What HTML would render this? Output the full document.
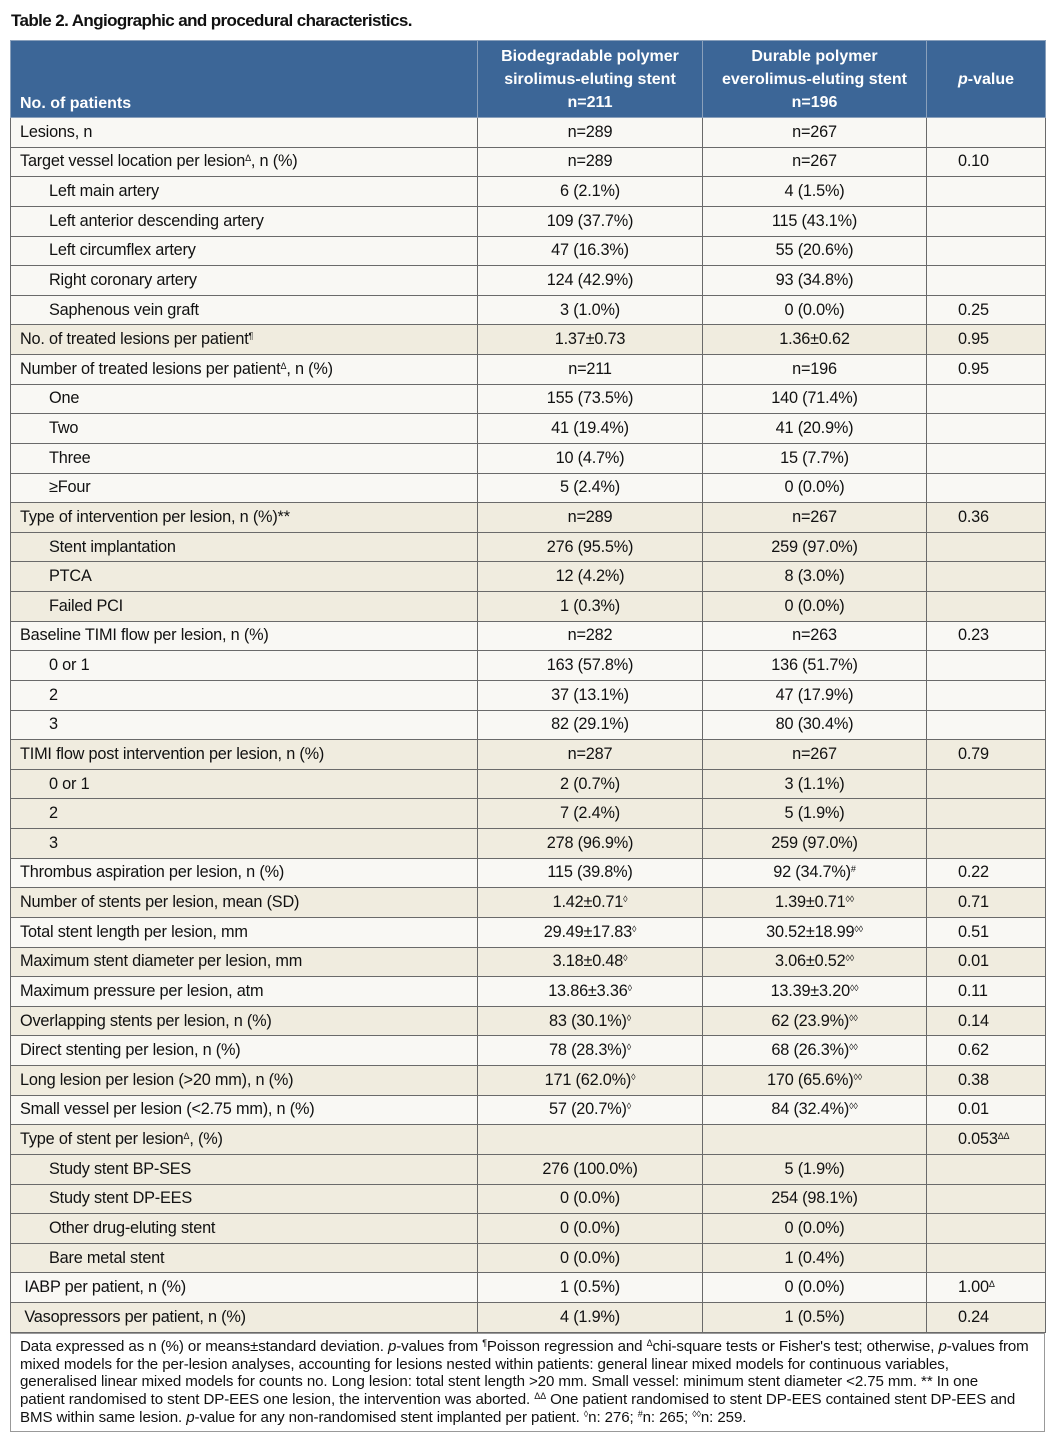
<!DOCTYPE html>
<html><head><meta charset="utf-8"><style>
body{margin:0;background:#fff;width:1060px;height:1445px;position:relative;font-family:"Liberation Sans",sans-serif;color:#111}
.title{position:absolute;left:11px;top:11px;font-weight:bold;font-size:17px;letter-spacing:-0.6px}
table{position:absolute;left:10px;top:40px;width:1035px;border-collapse:collapse;table-layout:fixed;font-size:16.3px;letter-spacing:-0.2px}
td,th{border:1px solid #6a6a6a;padding:0;white-space:nowrap}
th{background:#3c6697;color:#fff;font-weight:bold;font-size:16px;height:73px;text-align:center;vertical-align:bottom;padding-bottom:3px;line-height:23px;border-color:#8aa0bb;letter-spacing:0}
th.l{text-align:left;padding-left:9px;padding-bottom:2px}
tr.r td{height:28.63px}
td{background:#f9f8f4}
tr.b td{background:#f0ecdf}
td.a{padding-left:9px}
td.i{padding-left:38px}
td.c{text-align:center}
td.p{padding-left:31px}
sup{font-size:9px;vertical-align:5px;line-height:0}
.foot{position:absolute;left:10px;top:1333px;width:1035px;height:99px;border:1px solid #999;font-size:15.1px;line-height:17.7px;padding:4px 0 0 9px;box-sizing:border-box;white-space:nowrap;letter-spacing:-0.1px}
</style></head><body>
<div class="title">Table 2. Angiographic and procedural characteristics.</div>
<table>
<colgroup><col style="width:467px"><col style="width:225px"><col style="width:224px"><col style="width:119px"></colgroup>
<tr><th class="l">No. of patients</th><th>Biodegradable polymer<br>sirolimus-eluting stent<br>n=211</th><th>Durable polymer<br>everolimus-eluting stent<br>n=196</th><th style="vertical-align:middle;padding-bottom:0"><i>p</i>-value</th></tr>
<tr class="r"><td class="a">Lesions, n</td><td class="c">n=289</td><td class="c">n=267</td><td></td></tr>
<tr class="r"><td class="a">Target vessel location per lesion<sup>Δ</sup>, n (%)</td><td class="c">n=289</td><td class="c">n=267</td><td class="p">0.10</td></tr>
<tr class="r"><td class="i">Left main artery</td><td class="c">6 (2.1%)</td><td class="c">4 (1.5%)</td><td></td></tr>
<tr class="r"><td class="i">Left anterior descending artery</td><td class="c">109 (37.7%)</td><td class="c">115 (43.1%)</td><td></td></tr>
<tr class="r"><td class="i">Left circumflex artery</td><td class="c">47 (16.3%)</td><td class="c">55 (20.6%)</td><td></td></tr>
<tr class="r"><td class="i">Right coronary artery</td><td class="c">124 (42.9%)</td><td class="c">93 (34.8%)</td><td></td></tr>
<tr class="r"><td class="i">Saphenous vein graft</td><td class="c">3 (1.0%)</td><td class="c">0 (0.0%)</td><td class="p">0.25</td></tr>
<tr class="r b"><td class="a">No. of treated lesions per patient<sup>¶</sup></td><td class="c">1.37±0.73</td><td class="c">1.36±0.62</td><td class="p">0.95</td></tr>
<tr class="r"><td class="a">Number of treated lesions per patient<sup>Δ</sup>, n (%)</td><td class="c">n=211</td><td class="c">n=196</td><td class="p">0.95</td></tr>
<tr class="r"><td class="i">One</td><td class="c">155 (73.5%)</td><td class="c">140 (71.4%)</td><td></td></tr>
<tr class="r"><td class="i">Two</td><td class="c">41 (19.4%)</td><td class="c">41 (20.9%)</td><td></td></tr>
<tr class="r"><td class="i">Three</td><td class="c">10 (4.7%)</td><td class="c">15 (7.7%)</td><td></td></tr>
<tr class="r"><td class="i">≥Four</td><td class="c">5 (2.4%)</td><td class="c">0 (0.0%)</td><td></td></tr>
<tr class="r b"><td class="a">Type of intervention per lesion, n (%)**</td><td class="c">n=289</td><td class="c">n=267</td><td class="p">0.36</td></tr>
<tr class="r b"><td class="i">Stent implantation</td><td class="c">276 (95.5%)</td><td class="c">259 (97.0%)</td><td></td></tr>
<tr class="r b"><td class="i">PTCA</td><td class="c">12 (4.2%)</td><td class="c">8 (3.0%)</td><td></td></tr>
<tr class="r b"><td class="i">Failed PCI</td><td class="c">1 (0.3%)</td><td class="c">0 (0.0%)</td><td></td></tr>
<tr class="r"><td class="a">Baseline TIMI flow per lesion, n (%)</td><td class="c">n=282</td><td class="c">n=263</td><td class="p">0.23</td></tr>
<tr class="r"><td class="i">0 or 1</td><td class="c">163 (57.8%)</td><td class="c">136 (51.7%)</td><td></td></tr>
<tr class="r"><td class="i">2</td><td class="c">37 (13.1%)</td><td class="c">47 (17.9%)</td><td></td></tr>
<tr class="r"><td class="i">3</td><td class="c">82 (29.1%)</td><td class="c">80 (30.4%)</td><td></td></tr>
<tr class="r b"><td class="a">TIMI flow post intervention per lesion, n (%)</td><td class="c">n=287</td><td class="c">n=267</td><td class="p">0.79</td></tr>
<tr class="r b"><td class="i">0 or 1</td><td class="c">2 (0.7%)</td><td class="c">3 (1.1%)</td><td></td></tr>
<tr class="r b"><td class="i">2</td><td class="c">7 (2.4%)</td><td class="c">5 (1.9%)</td><td></td></tr>
<tr class="r b"><td class="i">3</td><td class="c">278 (96.9%)</td><td class="c">259 (97.0%)</td><td></td></tr>
<tr class="r"><td class="a">Thrombus aspiration per lesion, n (%)</td><td class="c">115 (39.8%)</td><td class="c">92 (34.7%)<sup>#</sup></td><td class="p">0.22</td></tr>
<tr class="r b"><td class="a">Number of stents per lesion, mean (SD)</td><td class="c">1.42±0.71<sup>◊</sup></td><td class="c">1.39±0.71<sup>◊◊</sup></td><td class="p">0.71</td></tr>
<tr class="r"><td class="a">Total stent length per lesion, mm</td><td class="c">29.49±17.83<sup>◊</sup></td><td class="c">30.52±18.99<sup>◊◊</sup></td><td class="p">0.51</td></tr>
<tr class="r b"><td class="a">Maximum stent diameter per lesion, mm</td><td class="c">3.18±0.48<sup>◊</sup></td><td class="c">3.06±0.52<sup>◊◊</sup></td><td class="p">0.01</td></tr>
<tr class="r"><td class="a">Maximum pressure per lesion, atm</td><td class="c">13.86±3.36<sup>◊</sup></td><td class="c">13.39±3.20<sup>◊◊</sup></td><td class="p">0.11</td></tr>
<tr class="r b"><td class="a">Overlapping stents per lesion, n (%)</td><td class="c">83 (30.1%)<sup>◊</sup></td><td class="c">62 (23.9%)<sup>◊◊</sup></td><td class="p">0.14</td></tr>
<tr class="r"><td class="a">Direct stenting per lesion, n (%)</td><td class="c">78 (28.3%)<sup>◊</sup></td><td class="c">68 (26.3%)<sup>◊◊</sup></td><td class="p">0.62</td></tr>
<tr class="r b"><td class="a">Long lesion per lesion (&gt;20 mm), n (%)</td><td class="c">171 (62.0%)<sup>◊</sup></td><td class="c">170 (65.6%)<sup>◊◊</sup></td><td class="p">0.38</td></tr>
<tr class="r"><td class="a">Small vessel per lesion (&lt;2.75 mm), n (%)</td><td class="c">57 (20.7%)<sup>◊</sup></td><td class="c">84 (32.4%)<sup>◊◊</sup></td><td class="p">0.01</td></tr>
<tr class="r b"><td class="a">Type of stent per lesion<sup>Δ</sup>, (%)</td><td></td><td></td><td class="p">0.053<sup>ΔΔ</sup></td></tr>
<tr class="r b"><td class="i">Study stent BP-SES</td><td class="c">276 (100.0%)</td><td class="c">5 (1.9%)</td><td></td></tr>
<tr class="r b"><td class="i">Study stent DP-EES</td><td class="c">0 (0.0%)</td><td class="c">254 (98.1%)</td><td></td></tr>
<tr class="r b"><td class="i">Other drug-eluting stent</td><td class="c">0 (0.0%)</td><td class="c">0 (0.0%)</td><td></td></tr>
<tr class="r b"><td class="i">Bare metal stent</td><td class="c">0 (0.0%)</td><td class="c">1 (0.4%)</td><td></td></tr>
<tr class="r"><td class="a">&nbsp;IABP per patient, n (%)</td><td class="c">1 (0.5%)</td><td class="c">0 (0.0%)</td><td class="p">1.00<sup>Δ</sup></td></tr>
<tr class="r b"><td class="a">&nbsp;Vasopressors per patient, n (%)</td><td class="c">4 (1.9%)</td><td class="c">1 (0.5%)</td><td class="p">0.24</td></tr>
</table>
<div class="foot">Data expressed as n (%) or means±standard deviation. <i>p</i>-values from <sup>¶</sup>Poisson regression and <sup>Δ</sup>chi-square tests or Fisher's test; otherwise, <i>p</i>-values from<br>mixed models for the per-lesion analyses, accounting for lesions nested within patients: general linear mixed models for continuous variables,<br>generalised linear mixed models for counts no. Long lesion: total stent length &gt;20 mm. Small vessel: minimum stent diameter &lt;2.75 mm. ** In one<br>patient randomised to stent DP-EES one lesion, the intervention was aborted. <sup>ΔΔ</sup> One patient randomised to stent DP-EES contained stent DP-EES and<br>BMS within same lesion. <i>p</i>-value for any non-randomised stent implanted per patient. <sup>◊</sup>n: 276; <sup>#</sup>n: 265; <sup>◊◊</sup>n: 259.</div>
</body></html>
